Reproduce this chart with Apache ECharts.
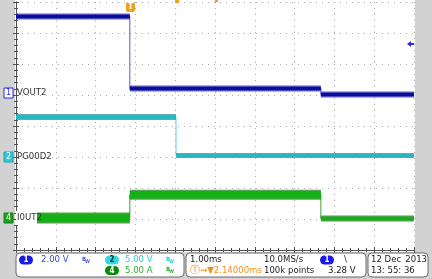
<!DOCTYPE html>
<html><head><meta charset="utf-8">
<script src="https://cdn.jsdelivr.net/npm/echarts@6/dist/echarts.min.js"></script>
<style>html,body{margin:0;padding:0;background:#d2d2d2;}#c{width:432px;height:279px;}</style>
</head><body><div id="c"></div>
<script>
// Time in ms (1.00 ms/div, 10 divisions), vertical position in screen divisions (0..8)
const ch1Times = [0, 2.86, 7.66, 10];
const ch1Levels = [7.53, 5.21, 5.02];
const ch2Times = [0, 4.02, 10];
const ch2Levels = [4.29, 3.05];
const ch4Times = [0, 2.86, 7.66, 10];
const ch4Levels = [1.03, 1.78, 1.02];
const ch1Band = [5, 5, 5];
const ch2Band = [5, 4];
const ch4Band = [10, 9, 5];

const C1 = '#0c0c9c', C2 = '#1fb8c4', C4 = '#14b014';

function stepPath(times, levels) {
  const d = [];
  for (let i = 0; i < levels.length; i++) {
    d.push([times[i], levels[i]]);
    d.push([times[i + 1], levels[i]]);
  }
  return d;
}
function bands(times, levels, widths, color, light, edge) {
  const s = [];
  s.push({type: 'line', data: stepPath(times, levels), symbol: 'none', silent: true, animation: false,
    lineStyle: {color: light, width: 1}, z: 3});
  for (let i = 0; i < levels.length; i++) {
    const seg = [[times[i], levels[i]], [times[i + 1], levels[i]]];
    s.push({type: 'line', data: seg, symbol: 'none', silent: true, animation: false,
      lineStyle: {color: edge, width: widths[i] + 1, opacity: 0.7}, z: 3});
    s.push({type: 'line', data: seg, symbol: 'none', silent: true, animation: false,
      lineStyle: {color: color, width: widths[i] - 1.5}, z: 4});
  }
  return s;
}

const chart = echarts.init(document.getElementById('c'), null, {renderer: 'canvas'});
const tickStyle = {color: '#505050'};
const axisCommon = {
  min: 0, max: 10, interval: 1,
  axisLabel: {show: false},
  axisLine: {show: true, lineStyle: {color: '#505050', width: 1}},
  axisTick: {show: true, inside: true, length: 3, lineStyle: tickStyle},
  minorTick: {show: true, splitNumber: 5, length: 2, lineStyle: tickStyle},
  splitLine: {show: false}
};
const yCommon = {
  min: 0, max: 8, interval: 1,
  axisLabel: {show: false},
  axisLine: {show: true, lineStyle: {color: '#505050', width: 1}},
  axisTick: {show: true, inside: true, length: 3, lineStyle: tickStyle},
  minorTick: {show: true, splitNumber: 5, length: 2, lineStyle: tickStyle},
  splitLine: {show: false}
};
const series = [].concat(
  bands(ch2Times, ch2Levels, ch2Band, C2, '#5fd4dc', '#128c98'),
  bands(ch4Times, ch4Levels, ch4Band, C4, '#3c9c3c', '#0a7a0a'),
  bands(ch1Times, ch1Levels, ch1Band, C1, '#5a5ad0', '#2222b8')
);

const F = '"Liberation Sans Narrow", "DejaVu Sans Condensed", "Liberation Sans", sans-serif';
function txt(x, y, s, color, size, align) {
  return {type: 'text', x: x, y: y, z: 20, style: {text: s, fill: color, font: (size || 9) + 'px ' + F, textAlign: align || 'left'}};
}
function chip(x, y, n, fill, tcolor) {
  return [{type: 'rect', shape: {x: x, y: y, width: 14, height: 9, r: 4.5}, style: {fill: fill}, z: 20},
          {type: 'text', x: x + 7, y: y + 0.5, z: 21, style: {text: n, fill: tcolor, font: 'bold 8px ' + F, textAlign: 'center'}}];
}
function bw(x, y, color) {
  return [{type: 'text', x: x, y: y, z: 20, style: {text: 'B', fill: color, font: 'bold 6px ' + F}},
          {type: 'text', x: x + 3, y: y + 3, z: 20, style: {text: 'W', fill: color, font: 'bold 5px ' + F}}];
}
const graphics = [
  {type: 'rect', shape: {x: 15, y: 0, width: 400, height: 252}, style: {fill: '#ffffff'}, z: -10},
  {type: 'rect', shape: {x: 16, y: 253, width: 168, height: 24, r: 4}, style: {fill: '#fff', stroke: '#6a6a6a', lineWidth: 1}, z: 10},
  {type: 'rect', shape: {x: 186, y: 253, width: 180, height: 24, r: 4}, style: {fill: '#fff', stroke: '#6a6a6a', lineWidth: 1}, z: 10},
  {type: 'rect', shape: {x: 368, y: 253, width: 60, height: 24, r: 4}, style: {fill: '#fff', stroke: '#6a6a6a', lineWidth: 1}, z: 10},
  // left channel markers
  {type: 'rect', shape: {x: 4, y: 88, width: 9, height: 10}, style: {fill: '#fff', stroke: '#2a2ae0', lineWidth: 1}, z: 20},
  {type: 'text', x: 8.5, y: 88.5, z: 21, style: {text: '1', fill: '#2a2ae0', font: '9px ' + F, textAlign: 'center'}},
  txt(17, 88, 'VOUT2', '#333', 9.5),
  {type: 'rect', shape: {x: 4, y: 152, width: 9, height: 10}, style: {fill: '#30c8d0', stroke: '#20a0b0', lineWidth: 1}, z: 20},
  {type: 'text', x: 8.5, y: 152.5, z: 21, style: {text: '2', fill: '#fff', font: '9px ' + F, textAlign: 'center'}},
  txt(17, 152, 'PG00D2', '#333', 9.5),
  {type: 'rect', shape: {x: 4, y: 213, width: 9, height: 10}, style: {fill: '#20a020', stroke: '#108010', lineWidth: 1}, z: 20},
  {type: 'text', x: 8.5, y: 213.5, z: 21, style: {text: '4', fill: '#fff', font: '9px ' + F, textAlign: 'center'}},
  {type: 'rect', shape: {x: 16, y: 211, width: 21, height: 14}, style: {fill: '#fff'}, z: 19},
  txt(17, 213, 'I0UT2', '#333', 9.5),
  // trigger marker
  {type: 'rect', shape: {x: 126, y: 2, width: 9, height: 10, r: 2}, style: {fill: '#f0a020'}, z: 20},
  {type: 'text', x: 130.5, y: 2.5, z: 21, style: {text: 'T', fill: '#fff', font: 'bold 9px ' + F, textAlign: 'center'}},
  {type: 'rect', shape: {x: 175, y: 0, width: 4, height: 3}, style: {fill: '#f0a020'}, z: 20},
  {type: 'rect', shape: {x: 215, y: 0, width: 3, height: 2}, style: {fill: '#f0a020'}, z: 20},
  // trigger level arrow
  {type: 'polygon', shape: {points: [[407, 44], [411, 41], [411, 47]]}, style: {fill: '#2a2ae0'}, z: 20},
  {type: 'rect', shape: {x: 410, y: 43, width: 4, height: 2}, style: {fill: '#2a2ae0'}, z: 20},
  // bottom readouts
  ...chip(19, 255.5, '1', '#1a1ae0', '#fff'),
  txt(41, 255, '2.00 V', '#3a4ad8', 9.5),
  ...bw(82, 256, '#4a5ad8'),
  ...chip(105, 255.5, '2', '#30d8e0', '#003040'),
  txt(125, 255, '5.00 V', '#30c8d8', 9.5),
  ...bw(166, 256, '#30c8d8'),
  ...chip(105, 266, '4', '#0a8a0a', '#fff'),
  txt(125, 265.5, '5.00 A', '#30b030', 9.5),
  ...bw(166, 266.5, '#30b030'),
  txt(190, 255, '1.00ms', '#222', 9.5),
  txt(190, 265.5, '\u24c9\u2192\u25bc2.14000ms', '#f09020', 9.5),
  txt(264, 255, '10.0MS/s', '#222', 9.5),
  txt(264, 265.5, '100k points', '#222', 9.5),
  ...chip(320, 255.5, '1', '#1a1ae0', '#fff'),
  txt(344, 254.5, '\\', '#222', 9.5),
  txt(328, 265.5, '3.28 V', '#222', 9.5),
  txt(371, 255, '12 Dec', '#222', 9.5),
  txt(427, 255, '2013', '#222', 9.5, 'right'),
  txt(371, 265.5, '13: 55: 36', '#222', 9.5)
];

chart.setOption({
  animation: false,
  backgroundColor: '#d2d2d2',
  grid: {left: 16, top: 2, width: 398, height: 248, show: false},
  xAxis: [
    Object.assign({type: 'value', position: 'bottom'}, axisCommon,
      {splitLine: {show: true, lineStyle: {color: '#a8a8a8', type: [1, 5], width: 1}}}),
    Object.assign({type: 'value', position: 'top'}, axisCommon)
  ],
  yAxis: [
    Object.assign({type: 'value', position: 'left'}, yCommon,
      {splitLine: {show: true, lineStyle: {color: '#a8a8a8', type: [1, 5], width: 1}}}),
    Object.assign({type: 'value', position: 'right'}, yCommon)
  ],
  series: series,
  graphic: graphics
});
</script>
</body></html>
